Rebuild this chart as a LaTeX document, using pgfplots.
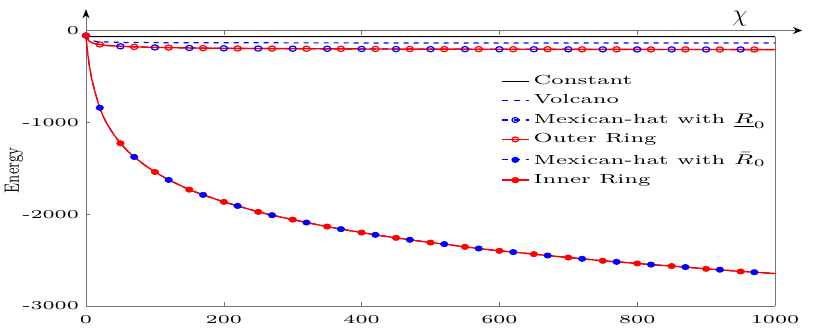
\documentclass[border=0pt]{standalone}
\usepackage{pgfplots}
\pgfplotsset{compat=1.18}
\usepackage{pgfplotstable}
\usepackage{graphicx}
\usetikzlibrary{arrows.meta}

\pgfplotstableread{
x y
0 -55
1 -140
2 -215
3.3 -300
5 -390
7.5 -495
10 -580
13 -667
16 -745
20 -841
25 -935
30 -1010
40 -1130
50 -1228
60 -1310
70 -1377
85 -1465
100 -1540
120 -1627
150 -1733
170 -1790
200 -1866
220 -1910
250 -1975
270 -2011
300 -2059
320 -2091
350 -2135
370 -2163
400 -2200
420 -2225
450 -2258
470 -2279
500 -2309
520 -2326
550 -2356
570 -2374
600 -2399
620 -2413
650 -2435
670 -2450
700 -2472
720 -2486
750 -2508
770 -2519
800 -2537
820 -2549
850 -2565
870 -2576
900 -2595
920 -2605
950 -2624
970 -2632
1000 -2646
}\lowline

\pgfplotstableread{
x y
0 -55
50 -1228
100 -1540
150 -1733
200 -1866
250 -1975
300 -2059
350 -2135
400 -2200
450 -2258
500 -2309
550 -2356
600 -2399
650 -2435
700 -2472
750 -2508
800 -2537
850 -2565
900 -2595
950 -2624
}\innermarks

\pgfplotstableread{
x y
20 -841
70 -1377
120 -1627
170 -1790
220 -1910
270 -2011
320 -2091
370 -2163
420 -2225
470 -2279
520 -2326
570 -2374
620 -2413
670 -2450
720 -2486
770 -2519
820 -2549
870 -2576
920 -2605
970 -2632
}\barmarks

\pgfplotstableread{
x y
0 -55
2 -90
5 -118
10 -138
15 -147
20 -152
30 -163
50 -172
70 -178
100 -184
150 -190
200 -194
300 -198
400 -201
500 -203
600 -204
700 -205
800 -206
900 -207
1000 -208
}\upline

\pgfplotstableread{
x y
20 -152
70 -178
120 -186
170 -192
220 -195
270 -197
320 -199
370 -200
420 -201
470 -202
520 -203
570 -203
620 -204
670 -204
720 -205
770 -205
820 -206
870 -206
920 -207
970 -207
}\outermarks

\pgfplotstableread{
x y
0 -55
50 -172
100 -184
150 -190
200 -194
250 -196
300 -198
350 -199
400 -201
450 -202
500 -203
550 -203
600 -204
650 -204
700 -205
750 -205
800 -206
850 -206
900 -207
950 -207
}\undermarks

\pgfplotstableread{
x y
0 -55
3 -92
6 -106
10 -114
20 -122
35 -127
60 -130
100 -132
200 -134
400 -135
1000 -135
}\volcano

\pgfplotstableread{
x y
0 -58
4 -67
1000 -67
}\constant

\newcommand{\wide}[1]{\scalebox{1.65}[1]{#1}}

\begin{document}
\begin{tikzpicture}
% frame: bottom axis with labels and right edge
\begin{axis}[
  at={(0,0)}, anchor=south west, scale only axis,
  width=344.5pt, height=137.75pt,
  xmin=0, xmax=1000, ymin=-3000, ymax=0,
  axis x line=bottom, axis y line=right,
  axis line style={black!55},
  every outer x axis line/.append style={-},
  every outer y axis line/.append style={-},
  x axis line style={-},
  y axis line style={-, shorten >=3.1pt},
  ytick=\empty,
  xtick={0,200,400,600,800,1000},
  tick align=inside, major tick length=2pt,
  tick style={black!55},
  /pgf/number format/1000 sep={},
  /pgf/number format/assume math mode=true,
  xticklabel={\wide{\fontsize{6}{7}\selectfont\pgfmathprintnumber{\tick}}},
  xticklabel style={yshift=-1pt},
]
\end{axis}
% main axis with data
\begin{axis}[
  at={(0,0)}, anchor=south west, scale only axis,
  width=344.5pt, height=137.75pt,
  xmin=0, xmax=1000, ymin=-3000, ymax=0,
  clip=false,
  axis x line=top, axis y line=left,
  axis line style={black!55},
  x axis line style={-{Stealth[length=4.5pt,width=3.5pt,color=black]}, shorten >=-13.5pt},
  y axis line style={-{Stealth[length=4.5pt,width=3.5pt,color=black]}, shorten >=-10.6pt},
  xtick={200,400,600,800}, xticklabels={{},{},{},{}},
  ytick={-3000,-2000,-1000,0},
  tick align=inside, major tick length=2pt,
  tick style={black!55},
  /pgf/number format/1000 sep={},
  /pgf/number format/assume math mode=true,
  yticklabel={\wide{\fontsize{6}{7}\selectfont\pgfmathprintnumber{\tick}}},
  xlabel={$\chi$},
  xlabel style={at={(axis description cs:0.949,1.044)}, anchor=center, font=\large},
  ylabel={\scalebox{1}[1.6]{Energy}},
  ylabel style={at={(axis description cs:-0.1045,0.493)}, anchor=center, font=\fontsize{6.5}{7}\selectfont},
  legend style={at={(0.593,0.868)}, anchor=north west, draw=none, fill=none,
    font=\fontsize{6.6}{8}\selectfont, row sep=-0.5pt},
  legend cell align=left,
  legend image code/.code={\draw[mark repeat=2,mark phase=2,#1] plot coordinates {(0cm,0cm) (0.24cm,0cm) (0.48cm,0cm)};},
]
\addlegendimage{black, line width=0.5pt}
\addlegendentry{\wide{Constant}}
\addlegendimage{blue, dashed, line width=0.6pt}
\addlegendentry{\wide{Volcano}}
\addlegendimage{blue, dashed, line width=0.6pt, mark=o, mark size=1.2pt, mark options={solid, line width=0.6pt, xscale=1.4}}
\addlegendentry{\wide{Mexican-hat with $\underline{R}_0$}}
\addlegendimage{red, line width=0.7pt, mark=o, mark size=1.2pt, mark options={solid, line width=0.6pt, xscale=1.4}}
\addlegendentry{\wide{Outer Ring}}
\addlegendimage{blue, dashed, line width=0.6pt, mark=*, mark size=1.2pt, mark options={solid, xscale=1.4}}
\addlegendentry{\wide{Mexican-hat with $\bar{R}_0$}}
\addlegendimage{red, line width=0.7pt, mark=*, mark size=1.2pt, mark options={solid, xscale=1.4}}
\addlegendentry{\wide{Inner Ring}}

\addplot[forget plot, black, line width=0.5pt] table {\constant};
\addplot[forget plot, blue, dashed, line width=0.6pt, dash pattern=on 2.5pt off 2.5pt] table {\volcano};
\addplot[forget plot, blue, dashed, line width=0.6pt] table {\upline};
\addplot[forget plot, only marks, blue, mark=o, mark size=1.3pt, mark options={line width=0.6pt, xscale=1.4}] table {\undermarks};
\addplot[forget plot, red, line width=0.7pt] table {\upline};
\addplot[forget plot, only marks, red, mark=o, mark size=1.3pt, mark options={line width=0.6pt, xscale=1.4}] table {\outermarks};
\addplot[forget plot, blue, dashed, line width=0.6pt] table {\lowline};
\addplot[forget plot, only marks, blue, mark=*, mark size=1.3pt, mark options={xscale=1.4}] table {\barmarks};
\addplot[forget plot, red, line width=0.7pt] table {\lowline};
\addplot[forget plot, only marks, red, mark=*, mark size=1.3pt, mark options={xscale=1.4}] table {\innermarks};
\end{axis}
\pgfresetboundingbox
\path (-43pt,-10.5pt) rectangle (372pt,153pt);
\end{tikzpicture}
\end{document}
